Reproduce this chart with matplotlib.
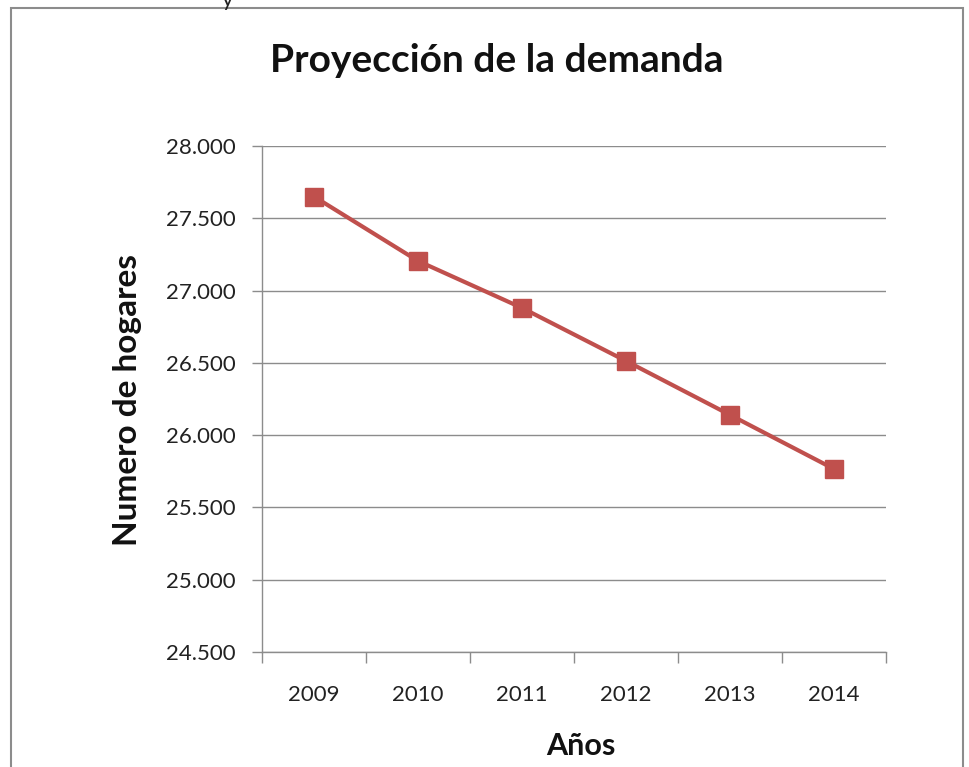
import matplotlib
matplotlib.use("Agg")
import matplotlib.pyplot as plt
from matplotlib.patches import Rectangle
from matplotlib.ticker import FuncFormatter, FixedLocator

anios = ["2009", "2010", "2011", "2012", "2013", "2014"]
hogares = [27650, 27205, 26880, 26513, 26140, 25766]
y_ticks = [24500, 25000, 25500, 26000, 26500, 27000, 27500, 28000]

plt.rcParams['font.family'] = ['Lato', 'DejaVu Sans']

W, H = 969, 767
fig = plt.figure(figsize=(W / 100, H / 100), dpi=100)

# chart frame (bottom edge cut off in the original)
fig.add_artist(Rectangle((11 / W, -0.05), (963 - 11) / W, 1.05 - 8 / H,
                         transform=fig.transFigure, fill=False,
                         edgecolor='#8c8c8c', lw=1.5))
# cropped text piece above the frame
fig.text(228 / W, 1 - 0 / H, "y", fontsize=16, ha='center', va='center',
         color='#222222')

ax = fig.add_axes([262 / W, 1 - 652 / H, (886 - 262) / W, (652 - 146) / H])

x = list(range(len(anios)))
ax.plot(x, hogares, color='#C0504D', lw=3, marker='s', markersize=13,
        markerfacecolor='#C0504D', markeredgecolor='#C0504D', zorder=3)

ax.set_xlim(-0.5, len(anios) - 0.5)
ax.set_ylim(24500, 28000)
ax.set_yticks(y_ticks)
ax.yaxis.set_major_formatter(FuncFormatter(lambda v, p: f"{int(v):,}".replace(",", ".")))
ax.grid(axis='y', color='#8c8c8c', lw=1)
ax.set_axisbelow(True)

ax.set_xticks(x)
ax.set_xticklabels(anios)
ax.xaxis.set_minor_locator(FixedLocator([i - 0.5 for i in range(len(anios) + 1)]))
ax.tick_params(axis='x', which='major', length=0, pad=24, labelsize=16, colors='#222222')
ax.tick_params(axis='x', which='minor', length=8, width=1, color='#8c8c8c')
ax.tick_params(axis='y', length=7, width=1, color='#8c8c8c', labelsize=16,
               labelcolor='#222222', pad=12)

for s in ['top', 'right']:
    ax.spines[s].set_visible(False)
for s in ['left', 'bottom']:
    ax.spines[s].set_color('#8c8c8c')
    ax.spines[s].set_linewidth(1)

fig.text(497 / W, 1 - 60 / H, "Proyección de la demanda", fontsize=28,
         fontweight='bold', ha='center', va='center', color='#111111')
fig.text(127 / W, 1 - 400 / H, "Numero de hogares", fontsize=24,
         fontweight='bold', rotation=90, ha='center', va='center', color='#111111')
fig.text(581 / W, 1 - 746 / H, "Años", fontsize=22, fontweight='bold',
         ha='center', va='center', color='#111111')

fig.savefig("out.png", dpi=100)
